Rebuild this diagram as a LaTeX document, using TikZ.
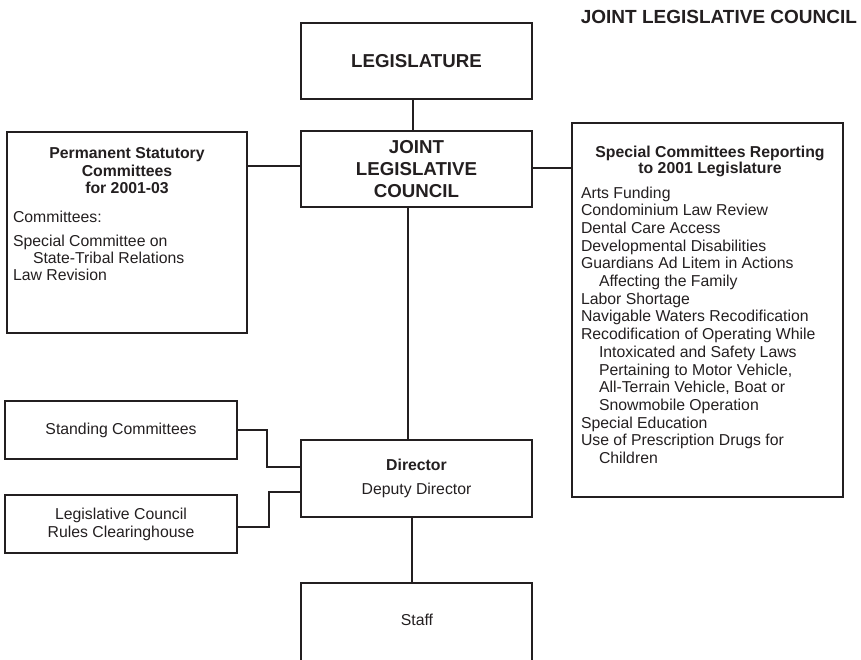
\documentclass[tikz,border=0pt]{standalone}
\usepackage{fontspec}
\setmainfont{Liberation Sans}
\definecolor{ink}{HTML}{231F20}
\newcommand{\bodyfont}{\fontsize{15.8}{17.7}\selectfont}
\newcommand{\bigbold}{\fontsize{18.7}{22}\selectfont\bfseries}
\begin{document}
\begin{tikzpicture}[x=1pt,y=-1pt,
  box/.style={draw=ink, line width=1.8pt, inner sep=0pt, outer sep=0pt, anchor=north west, text=ink, align=center},
  conn/.style={draw=ink, line width=1.8pt},
  txt/.style={inner sep=0pt, outer sep=0pt, text=ink}]
\useasboundingbox (0,0) rectangle (861,659);
\clip (0,0) rectangle (861,659);
% title
\node[txt, anchor=base east, font=\fontsize{19}{22}\selectfont\bfseries] (title) at (857,23) {JOINT LEGISLATIVE COUNCIL};
% boxes
\node[box, minimum width=231pt, minimum height=76pt, font=\bigbold] (leg) at (301,23) {LEGISLATURE};
\node[box, minimum width=231pt, minimum height=76pt, font=\bigbold] (jlc) at (301,131) {JOINT\\LEGISLATIVE\\COUNCIL};
\node[box, minimum width=240pt, minimum height=201pt] (perm) at (7,132) {};
\node[box, minimum width=271pt, minimum height=374pt] (spec) at (572,123) {};
\node[box, minimum width=231pt, minimum height=77pt, font=\fontsize{15.8}{24}\selectfont] (dir) at (301,440) {\textbf{Director}\\Deputy Director};
\node[box, minimum width=232pt, minimum height=58pt, font=\bodyfont] (stand) at (5,401) {Standing Committees};
\node[box, minimum width=232pt, minimum height=58pt, font=\fontsize{15.8}{18}\selectfont] (rules) at (5,495) {Legislative Council\\Rules Clearinghouse};
\node[box, minimum width=231pt, minimum height=90pt] (staff) at (301,583) {};
\node[txt, font=\bodyfont] (stafftxt) at (417,620) {Staff};
% texts of the permanent committees box (base = last line)
\node[txt, anchor=base, align=center, font=\fontsize{15.8}{17.5}\selectfont\bfseries] (permtitle) at (127,193.5) {Permanent Statutory\\Committees\\for 2001-03};
\node[txt, anchor=base west, font=\bodyfont] (permhead) at (13,222) {Committees:};
\node[txt, anchor=base west, align=left, font=\fontsize{15.8}{17}\selectfont] (permlist) at (13,280) {Special Committee on\\\hspace*{20pt}State-Tribal Relations\\Law Revision};
% texts of the special committees box (base = last line)
\node[txt, anchor=base, align=center, font=\fontsize{15.8}{16}\selectfont\bfseries] (spectitle) at (710,173.5) {Special Committees Reporting\\to 2001 Legislature};
\node[txt, anchor=base west, align=left, font=\bodyfont] (speclist) at (581,463.5) {Arts Funding\\
Condominium Law Review\\
Dental Care Access\\
Developmental Disabilities\\
Guardians Ad Litem in Actions\\
\hspace*{18pt}Affecting the Family\\
Labor Shortage\\
Navigable Waters Recodification\\
Recodification of Operating While\\
\hspace*{18pt}Intoxicated and Safety Laws\\
\hspace*{18pt}Pertaining to Motor Vehicle,\\
\hspace*{18pt}All-Terrain Vehicle, Boat or\\
\hspace*{18pt}Snowmobile Operation\\
Special Education\\
Use of Prescription Drugs for\\
\hspace*{18pt}Children};
% connectors
\coordinate (xl) at (413,0);
\coordinate (xj) at (408,0);
\coordinate (xd) at (412,0);
\coordinate (yp) at (0,166);
\coordinate (ys) at (0,168);
\coordinate (yr) at (0,527);
\coordinate (ka) at (267,467);
\coordinate (kb) at (269,492);
\draw[conn] (leg.south -| xl) -- (jlc.north -| xl);
\draw[conn] (jlc.south -| xj) -- (dir.north -| xj);
\draw[conn] (dir.south -| xd) -- (staff.north -| xd);
\draw[conn] (perm.east |- yp) -- (jlc.west |- yp);
\draw[conn] (jlc.east |- ys) -- (spec.west |- ys);
\draw[conn] (stand.east) -| (ka) -- (dir.west |- ka);
\draw[conn] (rules.east |- yr) -| (kb) -- (dir.west |- kb);
\end{tikzpicture}
\end{document}
